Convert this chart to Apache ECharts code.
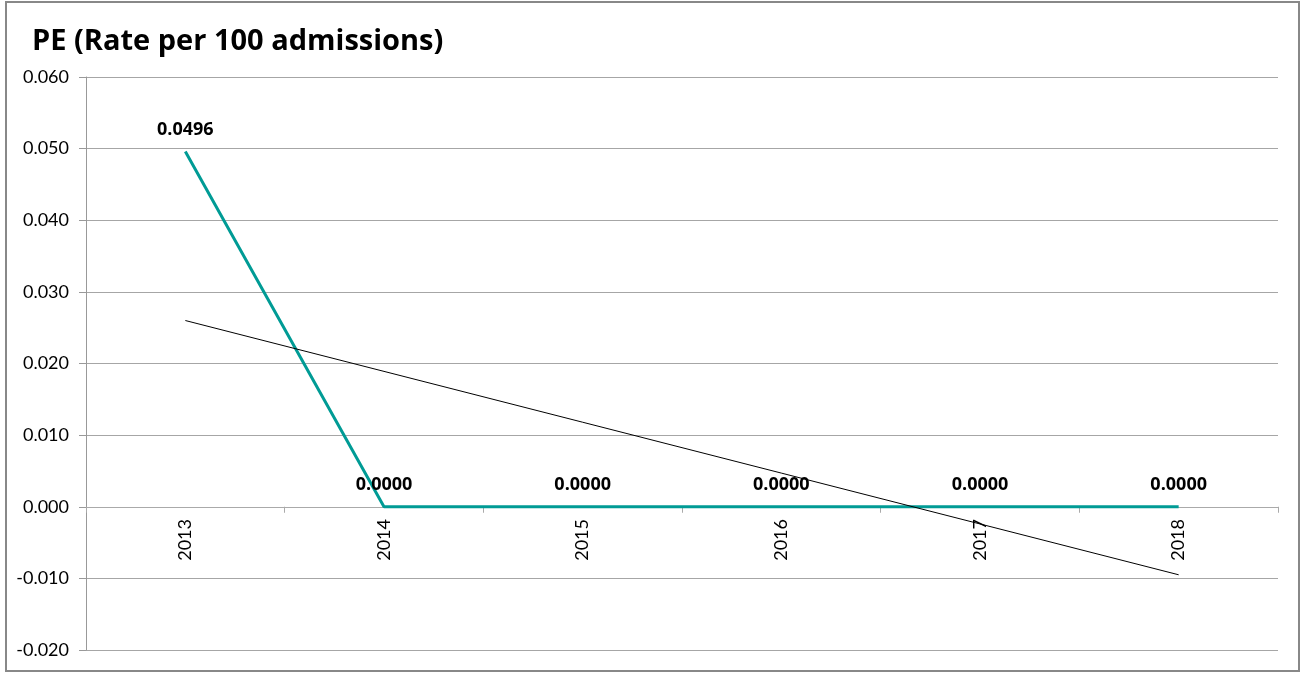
<!DOCTYPE html>
<html>
<head>
<meta charset="utf-8">
<script src="https://cdn.jsdelivr.net/npm/echarts@6/dist/echarts.min.js"></script>
<style>
  html, body { margin: 0; padding: 0; background: #fff; }
  #chart { width: 1303px; height: 673px; }
</style>
</head>
<body>
<div id="chart"></div>
<script>
var years = ['2013', '2014', '2015', '2016', '2017', '2018'];
var peRate = [0.0496, 0.0000, 0.0000, 0.0000, 0.0000, 0.0000];
// trend line
var trendRate = [0.0260, 0.0189, 0.0118, 0.0047, -0.0024, -0.0095];

var myChart = echarts.init(document.getElementById('chart'));
var option = {
    backgroundColor: '#fff',
    animation: false,
    textStyle: { fontFamily: 'Lato' },
    title: {
        text: 'PE (Rate per 100 admissions)',
        left: 27,
        top: 22,
        textStyle: { fontFamily: 'Open Sans', fontWeight: 'bold', fontSize: 29, color: '#000' }
    },
    graphic: [{
        type: 'rect',
        shape: { x: 6, y: 2, width: 1293, height: 669 },
        style: { fill: 'none', stroke: '#888', lineWidth: 2 },
        silent: true
    }],
    grid: { left: 86, right: 25, top: 77, bottom: 23, outerBoundsMode: 'none' },
    xAxis: {
        type: 'category',
        data: years,
        boundaryGap: true,
        axisLine: { onZero: true, lineStyle: { color: '#aaa', width: 1 } },
        axisTick: { show: true, length: 6, lineStyle: { color: '#aaa' } },
        // labels sit just under the zero line, not at the grid bottom
        axisLabel: { rotate: 90, fontSize: 18, color: '#000', margin: -131 }
    },
    yAxis: {
        type: 'value',
        min: -0.02,
        max: 0.06,
        interval: 0.01,
        axisLine: { show: true, lineStyle: { color: '#999' } },
        axisTick: { show: true, length: 7, lineStyle: { color: '#999' } },
        splitLine: { lineStyle: { color: '#a6a6a6', width: 1 } },
        axisLabel: {
            fontSize: 18,
            color: '#000',
            margin: 17,
            formatter: function (v) { return v.toFixed(3); }
        }
    },
    series: [
        {
            name: 'PE',
            type: 'line',
            data: peRate,
            symbol: 'circle',
            symbolSize: 0,
            showSymbol: true,
            lineStyle: { color: '#009b95', width: 3 },
            itemStyle: { color: '#009b95' },
            label: {
                show: true,
                position: 'top',
                distance: 13,
                fontFamily: 'Open Sans',
                fontSize: 18,
                fontWeight: 'bold',
                color: '#000',
                formatter: function (p) { return p.value.toFixed(4); }
            },
            z: 3
        },
        {
            name: 'Trend',
            type: 'line',
            data: trendRate,
            symbol: 'none',
            lineStyle: { color: '#000', width: 1 },
            z: 4
        }
    ]
};
myChart.setOption(option);
</script>
</body>
</html>
